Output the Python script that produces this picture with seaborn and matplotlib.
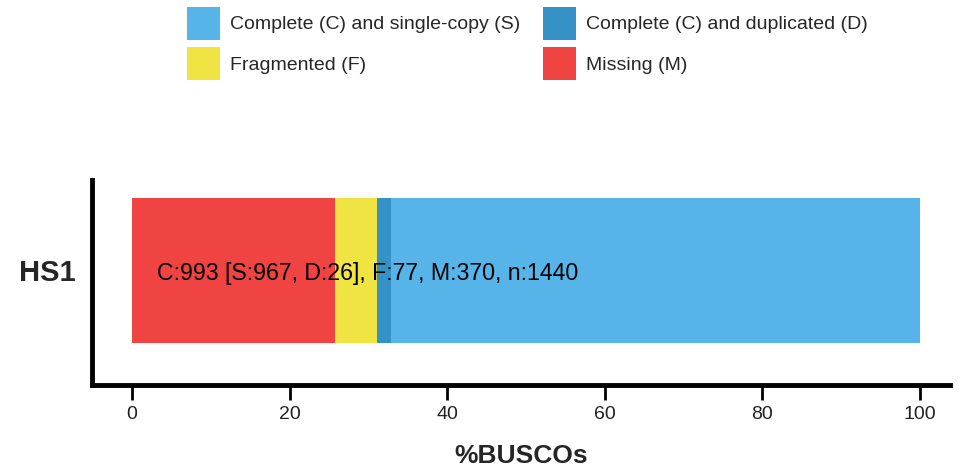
import matplotlib
matplotlib.use("Agg")
import matplotlib.pyplot as plt
from matplotlib.patches import Patch
import seaborn as sns
import pandas as pd
import numpy as np

# Data (BUSCO counts)
species = ["HS1"]
total_n = 1440
single = [967]
duplicated = [26]
fragmented = [77]
missing = [370]

labels = ["Complete (C) and single-copy (S)", "Complete (C) and duplicated (D)",
          "Fragmented (F)", "Missing (M)"]
colors = ["#56B4E9", "#3492C7", "#F0E442", "#F04442"]

pct_S = np.array(single) / total_n * 100
pct_D = np.array(duplicated) / total_n * 100
pct_F = np.array(fragmented) / total_n * 100
pct_M = np.array(missing) / total_n * 100

# stacked order from left: M, F, D, S -> draw cumulative from largest
cum_M = pct_M
cum_F = cum_M + pct_F
cum_D = cum_F + pct_D
cum_S = cum_D + pct_S

df = pd.DataFrame({"species": species, "S": cum_S, "D": cum_D, "F": cum_F, "M": cum_M})

sns.set_theme(style="white")
plt.rcParams["font.family"] = ["Liberation Sans", "DejaVu Sans"]

fig = plt.figure(figsize=(9.62, 4.76), dpi=100)
ax = fig.add_axes([92/962, 1 - 385/476, (950-92)/962, (385-180)/476])

for col, c in zip(["S", "D", "F", "M"], colors):
    sns.barplot(data=df, x=col, y="species", orient="h", color=c, width=1.0,
                saturation=1, ax=ax, edgecolor="none", linewidth=0)

ax.set_xlim(-5.1, 103.8)
ax.set_ylim(0.79, -0.624)
ax.set_xticks([0, 20, 40, 60, 80, 100])
ax.set_xlabel("%BUSCOs", fontsize=19, fontweight="bold", labelpad=15)
ax.set_ylabel("")
for t in ax.get_yticklabels():
    t.set_fontweight("bold")
    t.set_fontsize(21)
ax.tick_params(axis="y", length=0, pad=12)
ax.tick_params(axis="x", length=11, width=2, labelsize=14, color="black",
               labelcolor="#222222", pad=4, direction="out", bottom=True)
for s in ["top", "right"]:
    ax.spines[s].set_visible(False)
for s in ["left", "bottom"]:
    ax.spines[s].set_linewidth(3.5)
    ax.spines[s].set_color("black")

txt = "C:%d [S:%d, D:%d], F:%d, M:%d, n:%d" % (single[0] + duplicated[0], single[0],
                                                duplicated[0], fragmented[0], missing[0], total_n)
ax.text(3.1, 0.02, txt, fontsize=16.7, va="center", ha="left", color="black")

handles = [Patch(facecolor=c, edgecolor="none") for c in colors]
order = [0, 2, 1, 3]
fig.legend([handles[i] for i in order], [labels[i] for i in order], ncol=2,
           loc="upper left", bbox_to_anchor=(187/962, 1 - 7/476), frameon=False,
           fontsize=14, handlelength=1.7, handleheight=2.2, handletextpad=0.5,
           columnspacing=1.2, labelspacing=0.4, borderpad=0, borderaxespad=0)

fig.savefig("out.png", dpi=100, facecolor="white")
